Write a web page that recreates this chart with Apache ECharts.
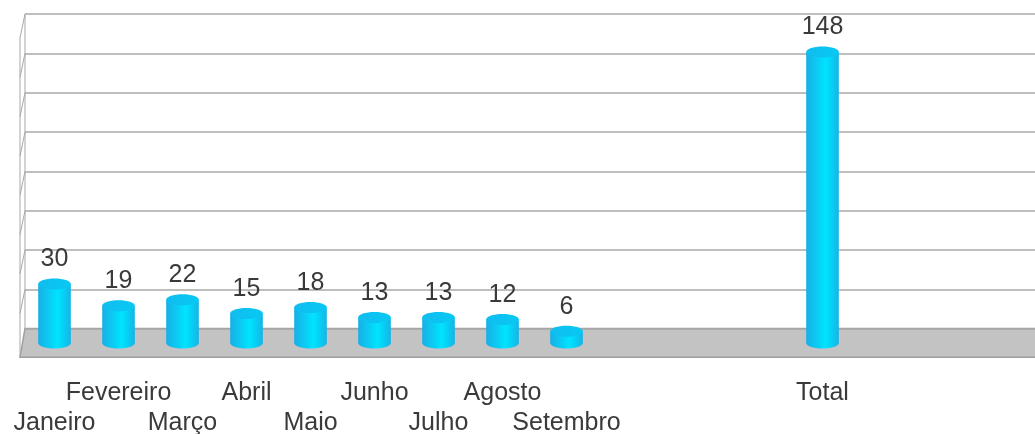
<!DOCTYPE html>
<html>
<head>
<meta charset="utf-8">
<style>
  html, body { margin: 0; padding: 0; background: #fff; }
  #chart { width: 1035px; height: 434px; }
</style>
<script src="https://cdn.jsdelivr.net/npm/echarts@6/dist/echarts.min.js"></script>
</head>
<body>
<div id="chart"></div>
<script>
// categorias (as vazias completam o eixo)
const categories = ['Janeiro', 'Fevereiro', 'Março', 'Abril', 'Maio', 'Junho', 'Julho', 'Agosto', 'Setembro',
  '', '', '', 'Total', '', '', ''];
const values = [30, 19, 22, 15, 18, 13, 13, 12, 6, null, null, null, 148, null, null, null];
const yMax = 160;
const yStep = 20;

// parede do fundo / plano das barras
const wall = { left: 25, top: 14, height: 314.6, width: 1024 };
const front = { left: 22.5, top: 28.4, height: 314.6, width: 1024 };
const depth = { dx: 5, dy: 28.6 };
const font = 'Liberation Sans';

const bodyGrad = new echarts.graphic.LinearGradient(0, 0, 1, 0, [
  { offset: 0, color: '#18aee6' },
  { offset: 0.6, color: '#00e4ff' },
  { offset: 1, color: '#14b4e8' }
]);
const topGrad = new echarts.graphic.LinearGradient(0, 0, 1, 0, [
  { offset: 0, color: '#10bdee' },
  { offset: 1, color: '#08c8f4' }
]);

// rótulos alternados em duas linhas
const labelRow = (value, idx) => {
  if (!value) return '';
  let n = 0;
  for (let i = 0; i < idx; i++) if (categories[i]) n++;
  return n % 2 === 0 ? ' \n' + value : value + '\n ';
};

const renderCylinder = (params, api) => {
  const idx = api.value(0);
  const v = api.value(1);
  const base = api.coord([idx, 0]);
  const top = api.coord([idx, v]);
  const w = api.size([1, 0])[0] * 0.51;
  const rx = w / 2, ry = 5.5;
  const cx = base[0];
  return {
    type: 'group',
    children: [
      { type: 'ellipse', shape: { cx: cx, cy: base[1], rx: rx, ry: ry }, style: { fill: bodyGrad } },
      { type: 'rect', shape: { x: cx - rx, y: top[1], width: w, height: base[1] - top[1] }, style: { fill: bodyGrad } },
      { type: 'ellipse', shape: { cx: cx, cy: top[1], rx: rx, ry: ry }, style: { fill: topGrad } },
      {
        type: 'text',
        style: {
          text: String(v), x: cx, y: top[1] - ry - 19,
          align: 'center', verticalAlign: 'middle',
          fontSize: 25, fontFamily: font, fill: '#3a3a3a'
        }
      }
    ]
  };
};

// chão e parede lateral
const decor = [];
const wallBottom = wall.top + wall.height;
decor.push({
  type: 'polygon', z: 0,
  shape: { points: [
    [wall.left - depth.dx, wallBottom + depth.dy], [wall.left, wallBottom],
    [wall.left + wall.width + 20, wallBottom], [wall.left + wall.width + 20 - depth.dx, wallBottom + depth.dy]
  ] },
  style: { fill: '#c3c3c3', stroke: '#a0a0a0', lineWidth: 1.5 }
});
for (let v = yStep; v <= yMax; v += yStep) {
  const y = wallBottom - v / yMax * wall.height;
  decor.push({ type: 'line', z: 0, shape: { x1: wall.left, y1: y, x2: wall.left - depth.dx, y2: y + 24 },
    style: { stroke: '#a8a8a8', lineWidth: 1 } });
}
decor.push({ type: 'line', z: 0, shape: { x1: wall.left - depth.dx, y1: wall.top + 24, x2: wall.left - depth.dx, y2: wallBottom + depth.dy },
  style: { stroke: '#a8a8a8', lineWidth: 1 } });
decor.push({ type: 'line', z: 0, shape: { x1: wall.left, y1: wall.top, x2: wall.left, y2: wallBottom },
  style: { stroke: '#a8a8a8', lineWidth: 1 } });

const chart = echarts.init(document.getElementById('chart'), null, { renderer: 'canvas' });
chart.setOption({
  animation: false,
  backgroundColor: '#fff',
  graphic: decor,
  grid: [
    { left: wall.left, top: wall.top, width: wall.width, height: wall.height, outerBoundsMode: 'none', containLabel: false },
    { left: front.left, top: front.top, width: front.width, height: front.height, outerBoundsMode: 'none', containLabel: false }
  ],
  xAxis: [
    { gridIndex: 0, type: 'value', show: false, min: 0, max: 1 },
    {
      gridIndex: 1, type: 'category', data: categories,
      axisLine: { show: false }, axisTick: { show: false },
      axisLabel: {
        interval: 0, margin: 35, formatter: labelRow,
        fontSize: 25, lineHeight: 30, fontFamily: font, color: '#3a3a3a'
      }
    }
  ],
  yAxis: [
    {
      gridIndex: 0, type: 'value', min: 0, max: yMax, interval: yStep,
      axisLine: { show: false }, axisTick: { show: false }, axisLabel: { show: false },
      splitLine: { lineStyle: { color: '#a8a8a8', width: 1.5 } }
    },
    { gridIndex: 1, type: 'value', min: 0, max: yMax, show: false, splitLine: { show: false } }
  ],
  series: [{
    type: 'custom',
    xAxisIndex: 1, yAxisIndex: 1,
    renderItem: renderCylinder,
    data: values.map((v, i) => [i, v]).filter(d => d[1] != null),
    z: 5
  }]
});
</script>
</body>
</html>
